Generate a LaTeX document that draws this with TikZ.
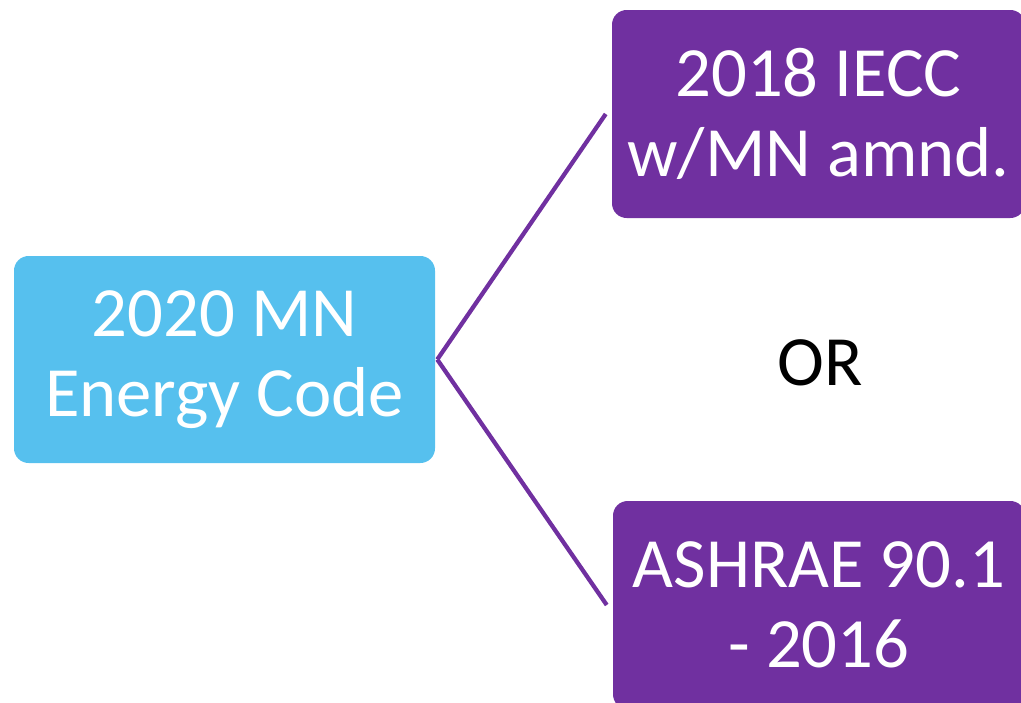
\documentclass[tikz,border=0pt]{standalone}
\usepackage{fontspec}
\setmainfont{Carlito}
\usepackage{tikz}
\usepackage{xcolor}
\usetikzlibrary{positioning}

\definecolor{codeblue}{HTML}{56C0EE}
\definecolor{codepurple}{HTML}{7030A0}

\begin{document}
\begin{tikzpicture}[x=0.75pt, y=-0.75pt,
		box/.style={rounded corners=11pt, align=center, text=white, font=\fontsize{53}{60}\selectfont},
		link/.style={draw=codepurple, line width=3.2pt}]
		\useasboundingbox (0, 0) rectangle (1021, 703);
		\node[box, fill=codeblue, minimum width=315.75pt, minimum height=155.25pt] (mncode) at (224.5, 359.5) {2020 MN\\Energy Code};
		\node[box, fill=codepurple, minimum width=309.75pt, minimum height=156pt] (iecc) at (818.5, 114) {2018 IECC\\w/MN amnd.};
		\node[box, fill=codepurple, minimum width=309pt, minimum height=156pt] (ashrae) at (819, 605) {ASHRAE 90.1\\- 2016};
		\node[font=\fontsize{53}{60}\selectfont] (or) at (820, 363) {OR};
		\draw[link] ([xshift=1.5pt]mncode.east) -- ([xshift=-4.5pt]iecc.west);
		\draw[link] ([xshift=1.5pt]mncode.east) -- ([xshift=-4.5pt]ashrae.west);
	\end{tikzpicture}
\end{document}
